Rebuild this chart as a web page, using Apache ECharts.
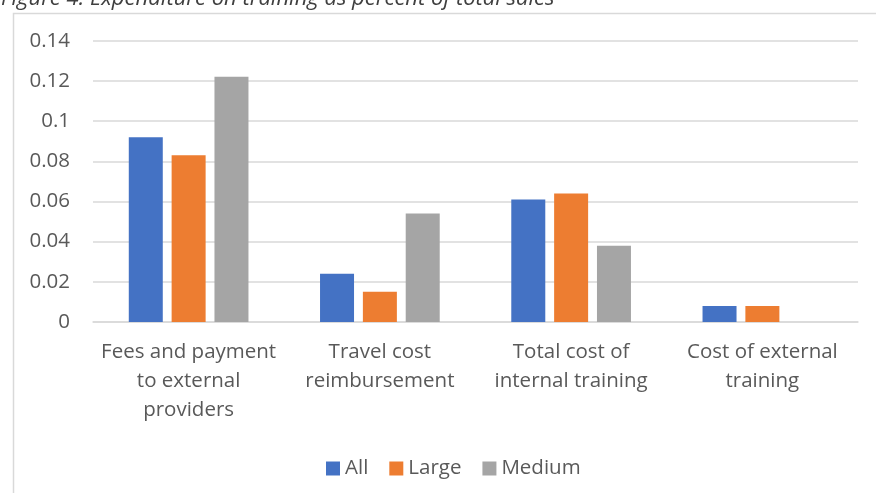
<!DOCTYPE html>
<html>
<head>
<meta charset="utf-8">
<script src="https://cdn.jsdelivr.net/npm/echarts@6/dist/echarts.min.js"></script>
<style>
  html, body { margin: 0; padding: 0; background: #ffffff; }
  #chart { width: 876px; height: 493px; }
</style>
</head>
<body>
<div id="chart"></div>
<script>
// Expenditure on training as percent of total sales, by firm size
const categories = [
  'Fees and payment\nto external\nproviders',
  'Travel cost\nreimbursement',
  'Total cost of\ninternal training',
  'Cost of external\ntraining'
];
const allFirms = [0.092, 0.024, 0.061, 0.008];
const largeFirms = [0.083, 0.015, 0.064, 0.008];
const mediumFirms = [0.122, 0.054, 0.038, null];
const seriesNames = ['All', 'Large', 'Medium'];
const titleText = 'Figure 4: Expenditure on training as percent of total sales';

const FONT = '"Open Sans", "Noto Sans", sans-serif';
const LABEL_SIZE = 20.5;
const chart = echarts.init(document.getElementById('chart'), null, { renderer: 'canvas' });

chart.setOption({
  animation: false,
  backgroundColor: '#ffffff',
  color: ['#4472C4', '#ED7D31', '#A5A5A5'],
  graphic: [
    {
      type: 'rect',
      left: 11, top: 11,
      shape: { width: 900, height: 520 },
      style: { fill: 'none', stroke: '#D9D9D9', lineWidth: 1.5 },
      z: -1
    },
    {
      type: 'text',
      left: 1, top: -12.5,
      style: {
        text: titleText,
        font: 'italic 22px ' + FONT,
        fill: '#404040'
      }
    }
  ],
  grid: { left: 93, right: 18, top: 40.7, bottom: 171, containLabel: false },
  legend: {
    data: seriesNames,
    left: 321, top: 453,
    itemWidth: 14, itemHeight: 14, itemGap: 21,
    icon: 'rect',
    textStyle: { color: '#595959', fontSize: LABEL_SIZE, fontFamily: FONT }
  },
  xAxis: {
    type: 'category',
    data: categories,
    axisLine: { lineStyle: { color: '#D9D9D9', width: 1.5 } },
    axisTick: { show: false },
    axisLabel: {
      color: '#595959', fontSize: LABEL_SIZE, fontFamily: FONT,
      lineHeight: 29, margin: 16, interval: 0, align: 'center'
    }
  },
  yAxis: {
    type: 'value',
    min: 0, max: 0.14, interval: 0.02,
    axisLine: { show: false },
    axisTick: { show: false },
    splitLine: { lineStyle: { color: '#D9D9D9', width: 1.5 } },
    axisLabel: {
      color: '#595959', fontSize: LABEL_SIZE, fontFamily: FONT, margin: 23,
      formatter: v => String(parseFloat(v.toFixed(2)))
    }
  },
  series: [
    { name: seriesNames[0], type: 'bar', data: allFirms, barWidth: 34, barGap: '26%' },
    { name: seriesNames[1], type: 'bar', data: largeFirms, barWidth: 34, barGap: '26%' },
    { name: seriesNames[2], type: 'bar', data: mediumFirms, barWidth: 34, barGap: '26%' }
  ]
});
</script>
</body>
</html>
